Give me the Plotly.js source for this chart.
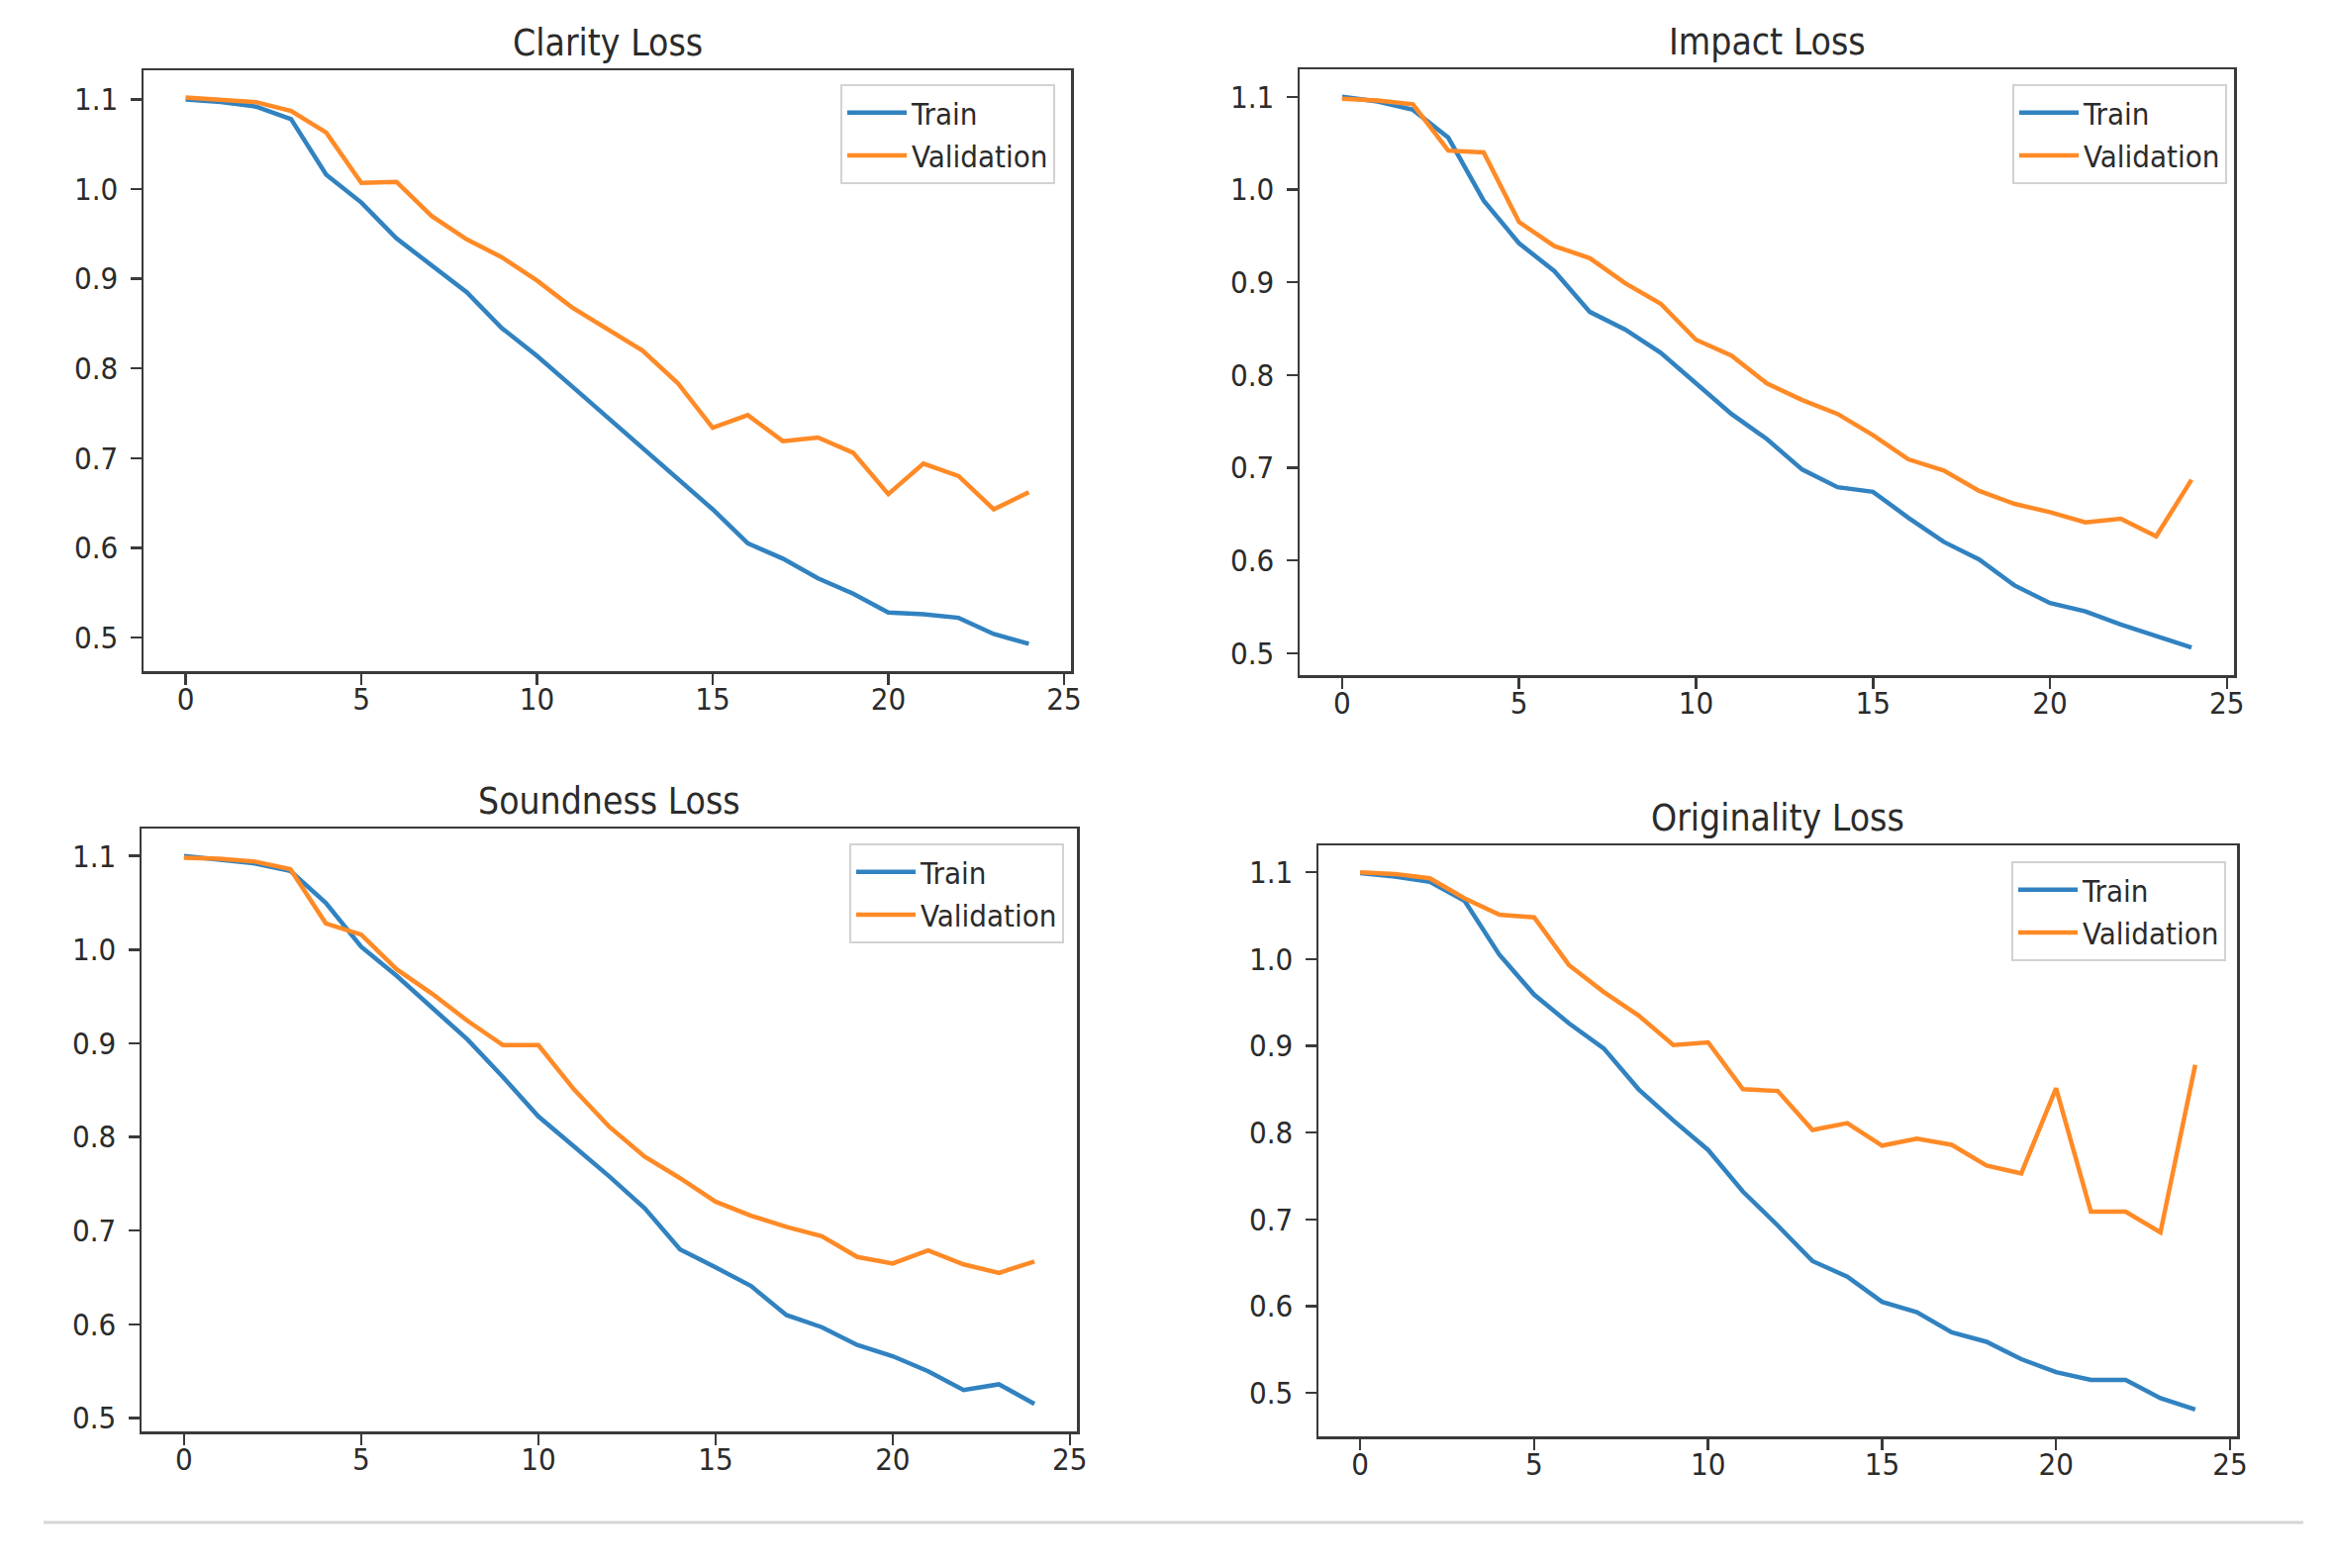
<!DOCTYPE html>
<html>
<head>
<meta charset="utf-8">
<script src="https://cdn.plot.ly/plotly-3.0.1.min.js"></script>
<style>html,body{margin:0;padding:0;background:#fff;}#chart{width:2357px;height:1584px;}</style>
</head>
<body>
<div id="chart"></div>
<script>
const epochs = [0,1,2,3,4,5,6,7,8,9,10,11,12,13,14,15,16,17,18,19,20,21,22,23,24];
const panelTitles = ["Clarity Loss", "Impact Loss", "Soundness Loss", "Originality Loss"];
const seriesNames = ["Train", "Validation"];
const xTickVals = [0,5,10,15,20,25];
const xTickText = ["0","5","10","15","20","25"];
const yTickVals = [0.5,0.6,0.7,0.8,0.9,1.0,1.1];
const yTickText = ["0.5","0.6","0.7","0.8","0.9","1.0","1.1"];

const clarityTrain = [1.100,1.097,1.092,1.078,1.016,0.985,0.945,0.915,0.885,0.845,0.814,0.780,0.746,0.712,0.677,0.643,0.605,0.588,0.566,0.549,0.528,0.526,0.522,0.504,0.493];
const clarityVal   = [1.102,1.100,1.097,1.087,1.063,1.007,1.008,0.970,0.944,0.924,0.898,0.868,0.844,0.820,0.784,0.734,0.748,0.719,0.723,0.706,0.660,0.694,0.680,0.643,0.662];
const impactTrain  = [1.100,1.095,1.086,1.056,0.988,0.942,0.912,0.868,0.849,0.824,0.791,0.758,0.731,0.698,0.679,0.674,0.646,0.620,0.601,0.573,0.554,0.545,0.531,0.518,0.506];
const impactVal    = [1.098,1.096,1.092,1.042,1.040,0.965,0.939,0.926,0.899,0.877,0.838,0.821,0.791,0.773,0.758,0.735,0.709,0.697,0.675,0.661,0.652,0.641,0.645,0.626,0.687];
const soundTrain   = [1.100,1.096,1.092,1.084,1.050,1.003,0.972,0.938,0.904,0.864,0.822,0.790,0.758,0.724,0.680,0.661,0.641,0.610,0.597,0.578,0.566,0.550,0.530,0.536,0.515];
const soundVal     = [1.098,1.097,1.094,1.086,1.028,1.016,0.979,0.953,0.924,0.898,0.898,0.851,0.811,0.779,0.756,0.731,0.716,0.704,0.694,0.672,0.665,0.679,0.664,0.655,0.667];
const origTrain    = [1.099,1.095,1.089,1.067,1.005,0.959,0.926,0.897,0.850,0.814,0.780,0.732,0.693,0.652,0.634,0.605,0.593,0.570,0.559,0.539,0.524,0.515,0.515,0.494,0.481];
const origVal      = [1.100,1.098,1.093,1.070,1.051,1.048,0.993,0.962,0.935,0.901,0.904,0.850,0.848,0.803,0.811,0.785,0.793,0.786,0.762,0.753,0.851,0.709,0.709,0.685,0.878];

const panelData = [[clarityTrain, clarityVal],[impactTrain, impactVal],[soundTrain, soundVal],[origTrain, origVal]];

// layout geometry (pixels)
const W = 2357, H = 1584;
const boxes = [
  {L:145, R:1082, T:71, B:678},
  {L:1313, R:2257, T:70, B:682},
  {L:143, R:1088, T:837, B:1446},
  {L:1332, R:2260, T:854, B:1451}
];
const legendBoxes = [
  {R:1066, T:85},
  {R:2250, T:85},
  {R:1075, T:852},
  {R:2249, T:870}
];
const colors = ["#3182c0", "#ff8a26"];
const FONT = "'DejaVu Sans Condensed', 'Liberation Sans Narrow', 'DejaVu Sans', sans-serif";
const textColor = "#2b2b2b";
const spineColor = "#3a3a3a";

const traces = [];
const layout = {
  width: W, height: H,
  margin: {l:0, r:0, t:0, b:0},
  paper_bgcolor: "#ffffff",
  plot_bgcolor: "#ffffff",
  font: {family: FONT, size: 31, color: textColor},
  showlegend: true,
  annotations: [],
  shapes: [{
    type: "line", xref: "paper", yref: "paper",
    x0: 44 / W, x1: 2327 / W, y0: 1 - 1538 / H, y1: 1 - 1538 / H,
    line: {color: "#d6d6d6", width: 3}
  }]
};

panelData.forEach((pair, i) => {
  const n = i + 1;
  const xa = n === 1 ? "xaxis" : "xaxis" + n;
  const ya = n === 1 ? "yaxis" : "yaxis" + n;
  const xr = n === 1 ? "x" : "x" + n;
  const yr = n === 1 ? "y" : "y" + n;
  const lg = n === 1 ? "legend" : "legend" + n;
  const b = boxes[i];

  pair.forEach((vals, k) => {
    traces.push({
      x: epochs, y: vals, type: "scatter", mode: "lines",
      name: seriesNames[k], xaxis: xr, yaxis: yr, legend: lg,
      line: {color: colors[k], width: 4.5}
    });
  });

  const all = pair[0].concat(pair[1]);
  const mn = Math.min(...all), mx = Math.max(...all);
  const pad = (mx - mn) * 0.05;
  const xmin = Math.min(...epochs), xmax = Math.max(...epochs);
  const xpad = (xmax - xmin) * 0.05;

  const common = {
    showgrid: false, zeroline: false, showline: true, mirror: true,
    linecolor: spineColor, linewidth: 2.5,
    ticks: "outside", ticklen: 11, tickwidth: 2.5, tickcolor: spineColor,
    tickfont: {family: FONT, size: 31, color: textColor},
    fixedrange: true
  };
  layout[xa] = Object.assign({}, common, {
    domain: [b.L / W, b.R / W], anchor: yr,
    range: [xmin - xpad, xmax + xpad],
    tickmode: "array", tickvals: xTickVals, ticktext: xTickText,
    ticklabelstandoff: -12
  });
  layout[ya] = Object.assign({}, common, {
    domain: [1 - b.B / H, 1 - b.T / H], anchor: xr,
    range: [mn - pad, mx + pad],
    tickmode: "array", tickvals: yTickVals, ticktext: yTickText,
    ticklabelstandoff: 6
  });

  const lb = legendBoxes[i];
  layout[lg] = {
    x: lb.R / W, y: 1 - lb.T / H, xanchor: "right", yanchor: "top",
    xref: "paper", yref: "paper",
    bgcolor: "rgba(255,255,255,0.8)", bordercolor: "#d2d2d2", borderwidth: 2,
    font: {family: FONT, size: 31, color: textColor},
    itemwidth: 60, tracegroupgap: 0
  };

  layout.annotations.push({
    text: panelTitles[i], xref: "paper", yref: "paper",
    x: (b.L + b.R) / 2 / W, y: 1 - b.T / H,
    xanchor: "center", yanchor: "bottom", yshift: 4, showarrow: false,
    font: {family: FONT, size: 37, color: textColor}
  });
});

Plotly.newPlot("chart", traces, layout, {displayModeBar: false, staticPlot: true});
</script>
</body>
</html>
